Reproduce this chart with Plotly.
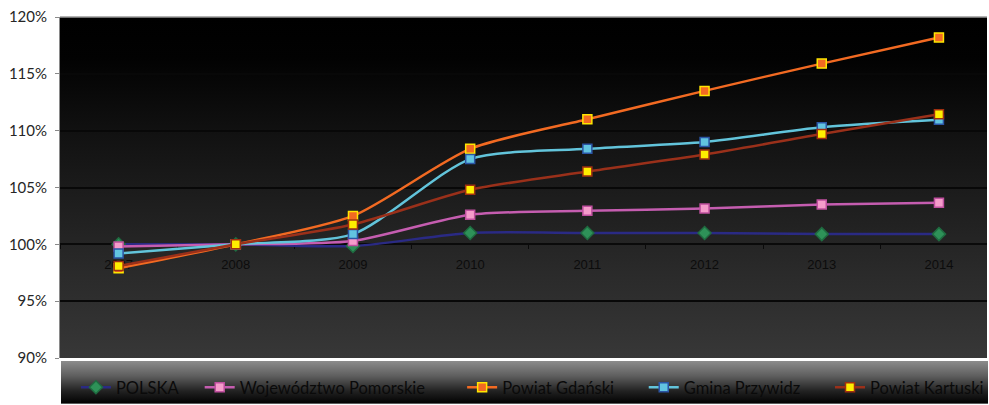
import base64
import plotly.graph_objects as go

# Index of change, 2008 = 100%
years = ["2007", "2008", "2009", "2010", "2011", "2012", "2013", "2014"]
polska = [100.0, 100.0, 99.85, 101.0, 101.0, 101.0, 100.9, 100.9]
pomorskie = [99.8, 100.0, 100.3, 102.6, 102.95, 103.15, 103.5, 103.65]
gdanski = [97.9, 100.0, 102.5, 108.4, 111.0, 113.5, 115.9, 118.2]
przywidz = [99.2, 100.0, 100.9, 107.5, 108.4, 109.0, 110.3, 110.95]
kartuski = [98.1, 100.0, 101.75, 104.8, 106.4, 107.9, 109.7, 111.45]

series = [
    ("POLSKA", polska, "#2a2a84", "diamond", "#2e9158", "#1f6b40", 10),
    ("Województwo Pomorskie", pomorskie, "#c55db0", "square", "#f59ccb", "#c04f9f", 9),
    ("Powiat Gdański", gdanski, "#f26a22", "square", "#f26a22", "#ffe600", 9),
    ("Gmina Przywidz", przywidz, "#62c4db", "square", "#62c4e0", "#2b55a5", 9),
    ("Powiat Kartuski", kartuski, "#9a301a", "square", "#ffee00", "#a03010", 9),
]
legend_names = ["legend", "legend2", "legend3", "legend4", "legend5"]
legend_x = [0.0172, 0.1507, 0.4338, 0.6297, 0.831]

W, H = 989, 405
L, R, T, B = 60, 0, 17, 46


def gradient_svg(stops, w=100, h=100):
    stop_xml = "".join(
        f'<stop offset="{o}" stop-color="{c}"/>' for o, c in stops
    )
    svg = (
        f'<svg xmlns="http://www.w3.org/2000/svg" width="{w}" height="{h}" '
        f'preserveAspectRatio="none" viewBox="0 0 {w} {h}">'
        f'<defs><linearGradient id="g" x1="0" y1="0" x2="0" y2="1">{stop_xml}'
        f'</linearGradient></defs><rect width="{w}" height="{h}" fill="url(#g)"/></svg>'
    )
    return "data:image/svg+xml;base64," + base64.b64encode(svg.encode()).decode()


plot_bg = gradient_svg([
    ("0", "#000000"), ("0.12", "#020202"), ("0.35", "#121212"),
    ("0.55", "#1e1e1e"), ("0.75", "#2a2a2a"), ("1", "#373737"),
])
legend_bg = gradient_svg([
    ("0", "#8c8c8c"), ("0.35", "#5e5e5e"), ("0.7", "#222222"), ("1", "#000000"),
])

fig = go.Figure()
for (name, vals, lc, sym, mfill, mline, msize), lg in zip(series, legend_names):
    fig.add_trace(go.Scatter(
        x=years, y=vals, name=name, mode="lines+markers",
        line=dict(color=lc, width=2.5, shape="spline", smoothing=0.7),
        marker=dict(symbol=sym, size=msize, color=mfill,
                    line=dict(color=mline, width=1.5)),
        legend=lg,
    ))

ph = H - T - B
pw = W - L - R
y100 = (100 - 90) / 30

layout = dict(
    width=W, height=H,
    margin=dict(l=L, r=R, t=T, b=B, pad=0),
    paper_bgcolor="white",
    plot_bgcolor="rgba(0,0,0,0)",
    xaxis=dict(
        type="category", range=[-0.5, 7.41],
        anchor="free", position=y100,
        showline=True, linecolor="#0a0a0a", linewidth=1.5,
        ticks="outside", tickson="boundaries", ticklen=4, tickcolor="#0a0a0a",
        showgrid=False, zeroline=False, ticklabelstandoff=8,
        tickfont=dict(family="Liberation Sans", size=13, color="#0c0c0c"),
        layer="below traces",
    ),
    yaxis=dict(
        range=[90, 120], dtick=5, ticksuffix="%",
        showline=True, linecolor="#8a8a8a", linewidth=1,
        ticks="outside", ticklen=4, tickcolor="#8a8a8a",
        showgrid=True, gridcolor="#080808", gridwidth=1.5, zeroline=False,
        ticklabelstandoff=5,
        tickfont=dict(family="Lato", size=15, color="#262626"),
        layer="below traces",
    ),
    images=[
        dict(source=plot_bg, xref="paper", yref="paper", x=0, y=1,
             sizex=1, sizey=1, sizing="stretch", layer="below",
             xanchor="left", yanchor="top"),
        dict(source=legend_bg, xref="paper", yref="paper",
             x=1 / pw, y=-3 / ph, sizex=1, sizey=43 / ph,
             sizing="stretch", layer="below", xanchor="left", yanchor="top"),
    ],
    shapes=[
        dict(type="line", xref="paper", yref="paper", x0=0, x1=1, y0=1, y1=1,
             line=dict(color="#9a9a9a", width=1.5)),
    ],
    showlegend=True,
)
for lg, lx in zip(legend_names, legend_x):
    layout[lg] = dict(
        orientation="h", x=lx, xanchor="left", y=-0.088, yanchor="middle",
        bgcolor="rgba(0,0,0,0)", borderwidth=0,
        font=dict(family="Lato", size=16.5, color="#0a0a0a"),
    )

fig.update_layout(**layout)
fig.write_html("out.html")
